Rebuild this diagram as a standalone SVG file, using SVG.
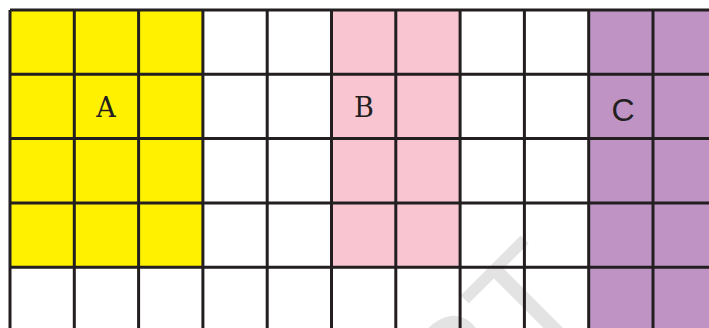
<svg xmlns="http://www.w3.org/2000/svg" width="709" height="328" viewBox="0 0 709 328">
<style>
.ln{stroke:#231f20;stroke-width:3;fill:none}
.lbl{fill:#231f20}
.serif{font-family:"DejaVu Serif","Liberation Serif",serif;font-size:27px}
.sans{font-family:"Liberation Sans",Arial,sans-serif;font-size:32px}
</style>
<rect width="709" height="328" fill="#ffffff"/>
<g id="A">
<rect x="10" y="10" width="193" height="257.2" fill="#fff100"/>
<text class="lbl serif" x="106" y="117" text-anchor="middle">A</text>
</g>
<g id="B">
<rect x="331.5" y="10" width="128.6" height="257.2" fill="#f8c5d0"/>
<text class="lbl serif" x="364" y="117" text-anchor="middle">B</text>
</g>
<g id="C">
<rect x="588.7" y="10" width="130" height="330" fill="#bf94c4"/>
<text class="lbl sans" x="623" y="121" text-anchor="middle">C</text>
</g>
<g id="watermark">
<text transform="translate(596,306) rotate(-45)" text-anchor="end" font-family="Liberation Sans,sans-serif" font-size="150" fill="#000" fill-opacity="0.11">NCERT</text>
</g>
<g id="grid">
<path class="ln" d="M10 10V340M74.3 10V340M138.6 10V340M202.9 10V340M267.2 10V340M331.5 10V340M395.8 10V340M460.1 10V340M524.4 10V340M588.7 10V340M653 10V340M717.3 10V340"/>
<path class="ln" d="M10 10H720M10 74.3H720M10 138.6H720M10 202.9H720M10 267.2H720"/>
</g>
</svg>
